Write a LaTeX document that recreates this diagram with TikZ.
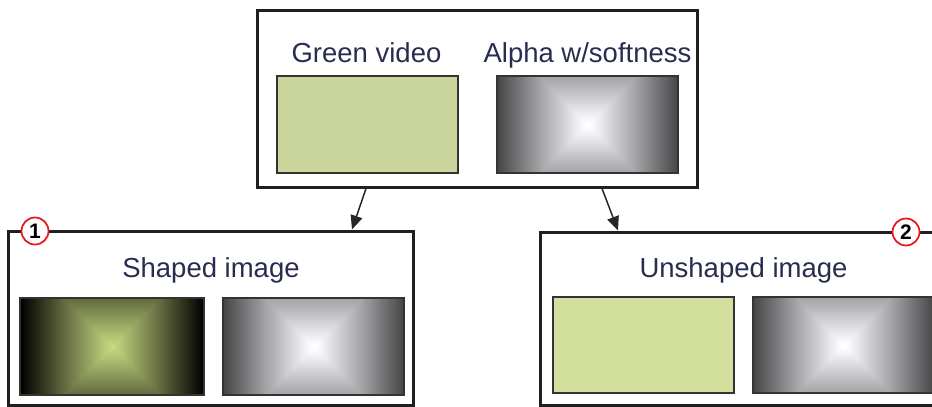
\documentclass[tikz,border=0pt]{standalone}
\usepackage{fontspec}
\setmainfont{Liberation Sans}
\usetikzlibrary{arrows.meta}
\definecolor{txt}{HTML}{282D50}
\definecolor{greenA}{HTML}{CBD69D}
\definecolor{greenB}{HTML}{D3DF9D}
\definecolor{badge}{HTML}{E8141B}
% square-contour soft gradients (Chebyshev distance from the centre)
\pgfdeclarefunctionalshading{graysoft}{\pgfpoint{0bp}{0bp}}{\pgfpoint{100bp}{100bp}}{}{
  50 sub abs 1.94 mul exch 50 sub abs 3.62 mul
  2 copy gt {pop} {exch pop} ifelse
  dup 48.5 le {0.0076 mul 1 exch sub} {48.5 sub 0.0086 mul 0.63 exch sub} ifelse
  dup 1.01 mul exch dup 1.01 mul exch 1.03 mul
}
\pgfdeclarefunctionalshading{greensoft}{\pgfpoint{0bp}{0bp}}{\pgfpoint{100bp}{100bp}}{}{
  50 sub abs 1.94 mul exch 50 sub abs 3.68 mul
  2 copy gt {pop} {exch pop} ifelse
  dup 48.5 le {0.0107 mul 1 exch sub} {48.5 sub 0.0112 mul 0.48 exch sub} ifelse
  dup 0 lt {pop 0} if
  dup 0.792 mul exch dup 0.859 mul exch 0.510 mul
}
\begin{document}
\begin{tikzpicture}[x=1pt,y=-1pt,
  frame/.style={draw=black!88,line width=3pt,inner sep=0pt},
  pic/.style={draw=black!80,line width=1.4pt,inner sep=0pt,minimum width=181pt,minimum height=97pt},
  lbl/.style={text=txt,font=\fontsize{27.5}{30}\selectfont,anchor=base,inner sep=0pt},
  badgenode/.style={circle,draw=badge,fill=white,line width=1.7pt,minimum size=27pt,inner sep=0pt,font=\fontsize{21}{22}\selectfont\bfseries},
  arr/.style={draw=black!85,line width=1.5pt,-{Triangle[length=14pt,width=12pt]}},
  alphapic/.style={pic,shade,shading=graysoft},
  shapedpic/.style={pic,shade,shading=greensoft}
]
\useasboundingbox (0,0) rectangle (932,407);
\clip (0,0) rectangle (932,407);

% top box
\node[frame,minimum width=440pt,minimum height=177pt] (top) at (477,98.5) {};
\node[lbl] (tg) at (366.5,62) {Green video};
\node[lbl] (ta) at (587.5,62) {Alpha w/softness};
\node[pic,fill=greenA] (g1) at (367.5,124.5) {};
\node[alphapic] (a1) at (587.5,124.5) {};

% left box
\node[frame,minimum width=405pt,minimum height=174pt] (lb) at (210.5,318) {};
\node[lbl] (ts) at (211,277) {Shaped image};
\node[shapedpic,minimum width=184pt] (s1) at (112,346.5) {};
\node[alphapic] (s2) at (313.5,346.5) {};
\node[badgenode] (c1) at (35,231) {1};

% right box
\node[frame,minimum width=405pt,minimum height=173pt] (rb) at (742.5,318.5) {};
\node[lbl] (tu) at (743.5,277) {Unshaped image};
\node[pic,minimum height=96pt,fill=greenB] (u1) at (643.5,345) {};
\node[alphapic,minimum height=96pt] (u2) at (843.5,345) {};
\node[badgenode] (c2) at (906,232) {2};

% arrows
\draw[arr] ([xshift=-111pt]top.south) -- ([xshift=141.5pt]lb.north);
\draw[arr] ([xshift=125pt]top.south) -- ([xshift=-124.5pt]rb.north);
\end{tikzpicture}
\end{document}
